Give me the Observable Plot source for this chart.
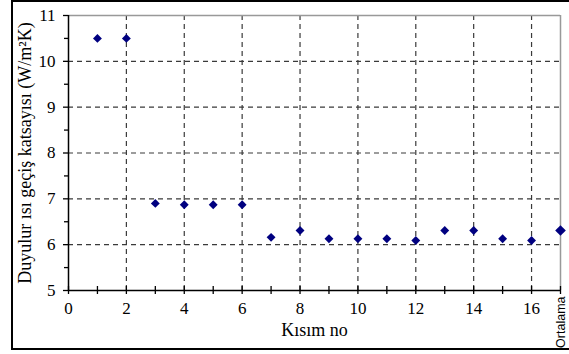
<!DOCTYPE html>
<html>
<head>
<meta charset="utf-8">
<script src="https://cdn.jsdelivr.net/npm/d3@7"></script>
<script src="https://cdn.jsdelivr.net/npm/@observablehq/plot@0.6"></script>
<style>
  html, body { margin: 0; padding: 0; background: #fff; }
  #wrap { position: relative; width: 569px; height: 354px; overflow: hidden; }
  #border { position: absolute; left: 11px; top: 0px; width: 570px; height: 350px; border: 2px solid #000; box-sizing: border-box; }
  #chart { position: absolute; left: 0; top: 0; }
</style>
</head>
<body>
<div id="wrap"><div id="border"></div><div id="chart"></div></div>
<script>
const sections = [1, 2, 3, 4, 5, 6, 7, 8, 9, 10, 11, 12, 13, 14, 15, 16];
const coefficients = [10.5, 10.5, 6.9, 6.87, 6.87, 6.87, 6.16, 6.31, 6.13, 6.13, 6.13, 6.09, 6.31, 6.31, 6.13, 6.09];
const averagePos = 17;
const averageValue = 6.31;
const averageLabel = "Ortalama";
const xTickValues = [0, 2, 4, 6, 8, 10, 12, 14, 16];
const xMinorTicks = [1, 3, 5, 7, 9, 11, 13, 15, 17];
const yTickValues = [5, 6, 7, 8, 9, 10, 11];
const yMinorTicks = [5.5, 6.5, 7.5, 8.5, 9.5, 10.5];
const yGrid = [6, 7, 8, 9, 10];
const xGrid = [2, 4, 6, 8, 10, 12, 14, 16];
const xTitle = "Kısım no";
const yTitle = "Duyulur ısı geçiş katsayısı (W/m²K)";

const data = sections.map((s, i) => ({x: s, y: coefficients[i]}));
const serif = "Liberation Serif";
const sans = "Liberation Sans";

const chart = Plot.plot({
  width: 569,
  height: 354,
  marginLeft: 68,
  marginRight: 9,
  marginTop: 15,
  marginBottom: 64,
  style: {fontFamily: serif, fontSize: "17px"},
  x: {domain: [0, 17], label: null},
  y: {domain: [5, 11], label: null},
  marks: [
    Plot.gridX(xGrid, {stroke: "#3a3a3a", strokeOpacity: 1, strokeDasharray: "5,4", strokeWidth: 1.2}),
    Plot.gridY(yGrid, {stroke: "#3a3a3a", strokeOpacity: 1, strokeDasharray: "5,4", strokeWidth: 1.2}),
    Plot.ruleY([11], {stroke: "#999", strokeWidth: 1.5}),
    Plot.ruleX([17], {stroke: "#999", strokeWidth: 1.5}),
    Plot.ruleX([0], {stroke: "#000", strokeWidth: 1.5}),
    Plot.ruleY([5], {stroke: "#000", strokeWidth: 1.5}),
    Plot.ruleX(xTickValues.concat(xMinorTicks), {x: d => d, y1: 5, y2: 5, insetTop: -4, insetBottom: -4, stroke: "#000", strokeWidth: 1.3}),
    Plot.axisY(yTickValues, {label: null, tickSize: 5, tickPadding: 8, stroke: "#000", strokeWidth: 1.3, fontSize: 17, fontFamily: serif, fill: "#000"}),
    Plot.axisY(yMinorTicks, {label: null, tickSize: 4, tickFormat: () => "", stroke: "#000", strokeWidth: 1.3}),
    Plot.axisX(xTickValues, {label: null, tickSize: 0, tickPadding: 11, fontSize: 17, fontFamily: serif, fill: "#000"}),
    Plot.text([averageLabel], {x: averagePos, y: 5, text: d => d, rotate: -90, textAnchor: "end", dy: 6, fontSize: 12.5, fontFamily: sans, fill: "#000"}),
    Plot.text([xTitle], {frameAnchor: "bottom", text: d => d, lineAnchor: "middle", dy: 40, fontSize: 18, fontFamily: serif, fill: "#000"}),
    Plot.text([yTitle], {frameAnchor: "left", text: d => d, textAnchor: "middle", lineAnchor: "middle", rotate: -90, dx: -43, fontSize: 18, fontFamily: serif, fill: "#000"}),
    Plot.dot(data, {x: "x", y: "y", symbol: "diamond2", r: 4, fill: "#000080", stroke: "none"}),
    Plot.dot([averageValue], {x: averagePos, y: d => d, symbol: "diamond2", r: 4.8, fill: "#000080", stroke: "none"})
  ]
});
document.getElementById("chart").appendChild(chart);
</script>
</body>
</html>
